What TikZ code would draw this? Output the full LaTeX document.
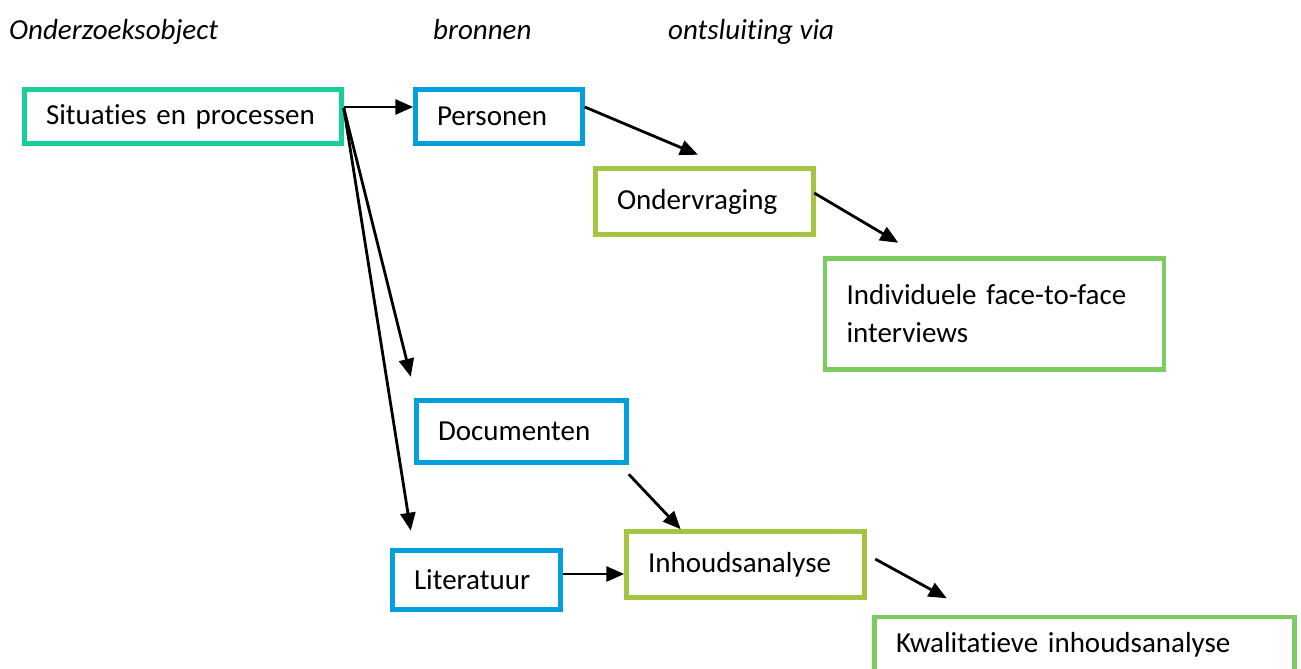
\documentclass[tikz,border=0pt]{standalone}
\usepackage{fontspec}
\setmainfont{Carlito}[Ligatures=NoCommon]
\usetikzlibrary{arrows.meta,calc}

\definecolor{teal}{RGB}{24,206,155}
\definecolor{bronblauw}{RGB}{0,160,220}
\definecolor{olijf}{RGB}{166,196,68}
\definecolor{groen}{RGB}{124,204,98}

\begin{document}
\begin{tikzpicture}[x=1pt, y=-1pt,
  vak/.style={draw, line width=4.5pt, inner xsep=21.5pt, inner ysep=0pt, align=left,
    font=\fontsize{29}{38}\selectfont},
  kop/.style={anchor=base west, inner sep=0pt, font=\fontsize{29}{38}\selectfont\itshape},
  pijl/.style={-{Triangle[length=18pt, width=15pt]}, line width=2.8pt}]
\useasboundingbox (0,0) rectangle (1301,669);

% Kop
\node[kop] (hobj) at (9,40) {Onderzoeksobject};
\node[kop] (hbron) at (433,40) {bronnen};
\node[kop] (hvia) at (668,40) {ontsluiting via};

% Onderzoeksobject
\node[vak, draw=teal, text width=274pt, minimum height=54pt] (sit) at (183,116.5) {Situaties en processen};

% Bronnen
\node[vak, draw=bronblauw, text width=124pt, minimum height=54pt] (pers) at (499,116.5) {Personen};
\node[vak, draw=bronblauw, text width=167pt, minimum height=62pt] (doc) at (521.5,431.5) {Documenten};
\node[vak, draw=bronblauw, text width=125pt, minimum height=59pt] (lit) at (476.5,580) {Literatuur};

% Ontsluiting
\node[vak, draw=olijf, text width=175pt, minimum height=66pt] (ond) at (704.5,201.5) {Ondervraging};
\node[vak, draw=olijf, text width=195pt, minimum height=66pt] (inh) at (745.5,564.5) {Inhoudsanalyse};
\node[vak, draw=groen, text width=296pt, minimum height=111pt] (ind) at (994.5,314) {Individuele face-to-face\\interviews};
\node[vak, draw=groen, text width=377pt, minimum height=56pt] (kwa) at (1084.5,645) {Kwalitatieve inhoudsanalyse};

% Pijlen
\draw[pijl] ($(sit.east)+(0,-9.5)$) -- ($(pers.west)+(0,-9.5)$);
\draw[pijl] ($(sit.east)+(0,-8.5)$) -- ($(doc.north west)+(-3.5,-21.5)$);
\draw[pijl] ($(sit.east)+(0,-8.5)$) -- ($(lit.north west)+(20.5,-17.5)$);
\draw[pijl] ($(pers.east)+(0,-9.5)$) -- ($(ond.north)+(-6.5,-11.5)$);
\draw[pijl] ($(ond.east)+(-1.5,-8.5)$) -- ($(ind.north west)+(75.5,-13.5)$);
\draw[pijl] ($(doc.south east)+(0,9.5)$) -- ($(inh.north west)+(56.5,0)$);
\draw[pijl] ($(lit.east)+(0,-6)$) -- ($(inh.west)+(0,9.5)$);
\draw[pijl] ($(inh.east)+(8.5,-5.5)$) -- ($(kwa.north west)+(74.5,-16.5)$);
\end{tikzpicture}
\end{document}
